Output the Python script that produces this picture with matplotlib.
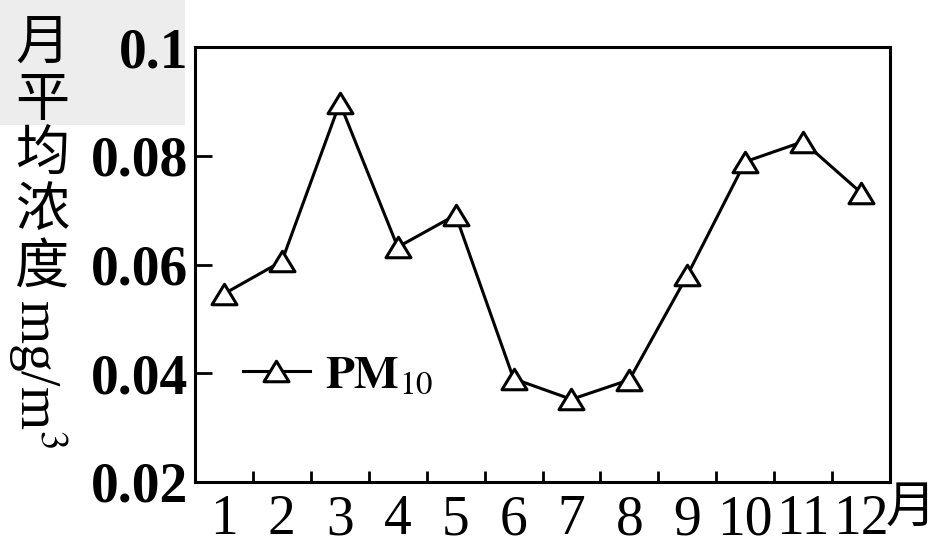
import numpy as np
import matplotlib
matplotlib.use("Agg")
import matplotlib.pyplot as plt
from matplotlib.path import Path
from matplotlib.patches import Rectangle
from matplotlib.lines import Line2D

# ---- data ----
months = [1, 2, 3, 4, 5, 6, 7, 8, 9, 10, 11, 12]
month_labels = ["1", "2", "3", "4", "5", "6", "7", "8", "9", "10", "11", "12"]
pm10 = [0.0546, 0.0606, 0.0897, 0.0632, 0.0691, 0.0390,
        0.0352, 0.0388, 0.0580, 0.0789, 0.0826, 0.0732]
y_ticks = [0.02, 0.04, 0.06, 0.08, 0.1]
y_tick_labels = ["0.02", "0.04", "0.06", "0.08", "0.1"]
series_name = r"$\mathbf{PM}_{10}$"
ylabel_cjk = "月\n平\n均\n浓\n度"
ylabel_unit = r"mg/m$^3$"
xunit = "月"

plt.rcParams["mathtext.fontset"] = "stix"
serif = ["Liberation Serif", "DejaVu Serif"]
cjk = ["Noto Sans CJK SC", "DejaVu Sans"]

W, H = 949, 548
fig = plt.figure(figsize=(W / 100, H / 100), dpi=100)

# light watermark patch in the top-left corner
fig.patches.append(Rectangle((0, 1 - 125 / H), 185 / W, 125 / H,
                             transform=fig.transFigure, facecolor="#ededed",
                             edgecolor="none", zorder=-5))

ax = fig.add_axes([195 / W, 1 - 482 / H, 695 / W, 435 / H])
ax.set_zorder(1)
ax.patch.set_alpha(0)
ax.set_xlim(0.5, 12.5)
ax.set_ylim(0.02, 0.1)

tri = Path([(0, 0.82), (-1, -0.82), (1, -0.82), (0, 0.82)],
           [Path.MOVETO, Path.LINETO, Path.LINETO, Path.CLOSEPOLY])

ax.plot(months, pm10, color="black", lw=2.2, marker=tri, ms=18,
        mfc="white", mec="black", mew=2.2, zorder=3)

for s in ax.spines.values():
    s.set_linewidth(2.2)

ax.set_xticks(months)
ax.set_xticklabels(month_labels, fontfamily=serif, fontsize=40)
ax.tick_params(axis="x", which="major", length=0, pad=9)
ax.set_xticks(np.arange(1.5, 12, 1), minor=True)
ax.tick_params(axis="x", which="minor", direction="in", length=8, width=2)

ax.set_yticks(y_ticks)
ax.set_yticklabels(y_tick_labels, fontfamily=serif, fontsize=40, fontweight="bold")
ax.tick_params(axis="y", which="major", direction="in", length=12, width=2, pad=5)

# legend
handle = Line2D([], [], color="black", lw=2.2, marker=tri, ms=18,
                mfc="white", mec="black", mew=2.2)
ax.legend([handle], [series_name], loc="center left",
          bbox_to_anchor=(0.069, 0.246), frameon=False, borderpad=0,
          borderaxespad=0, handlelength=1.42, handletextpad=0.32,
          numpoints=1, prop={"size": 34})

# y label: stacked CJK + rotated unit
fig.text(42 / W, 1 - 17 / H, ylabel_cjk, fontfamily=cjk, fontsize=39,
         ha="center", va="top", linespacing=1.015)
fig.text(38 / W, 1 - 374 / H, ylabel_unit, fontfamily=serif, fontsize=40,
         rotation=270, ha="center", va="center", rotation_mode="anchor")

# x unit
fig.text(911 / W, 1 - 508 / H, xunit, fontfamily=cjk, fontsize=36,
         ha="center", va="center")

fig.savefig("out.png", dpi=100)
